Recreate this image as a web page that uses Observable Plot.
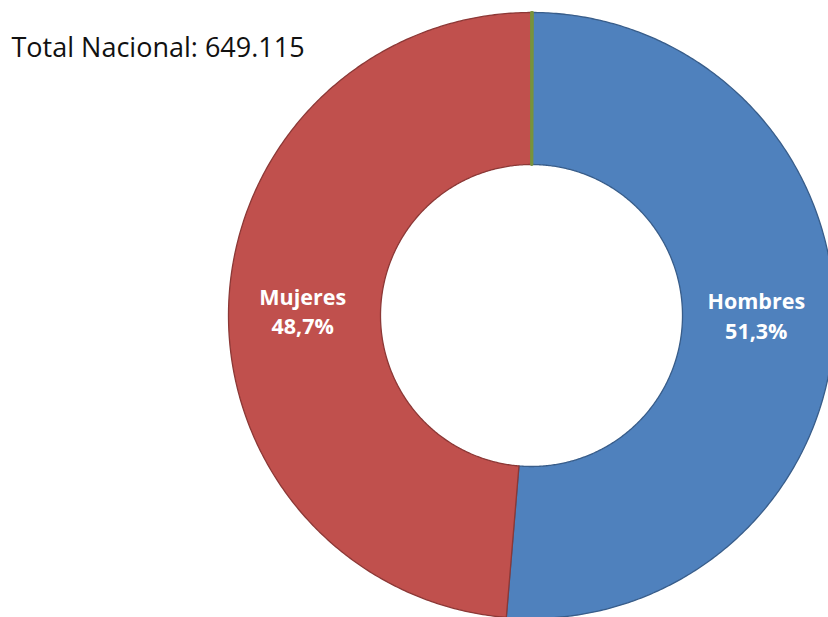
<!DOCTYPE html>
<html>
<head>
<meta charset="utf-8">
<script src="https://cdn.jsdelivr.net/npm/d3@7"></script>
<script src="https://cdn.jsdelivr.net/npm/@observablehq/plot@0.6"></script>
<style>
  html, body { margin: 0; padding: 0; background: #fff; }
  #chart svg { display: block; }
</style>
</head>
<body>
<div id="chart"></div>
<script>
// ---- data ----
const categories = ["Otro", "Hombres", "Mujeres"];
const values = [0.05, 51.3, 48.7];
const labels = ["", "Hombres\n51,3%", "Mujeres\n48,7%"];
const colors = ["#77933C", "#4F81BD", "#C0504D"];
const borders = ["#77933C", "#385D8A", "#8C3836"];
const title = "Total Nacional: 649.115";

// ---- layout ----
const W = 828, H = 617;
const cx = 531, cy = 315, R = 303, innerRatio = 151 / 303;
const labelDx = {Hombres: -2, Mujeres: -2};
const labelDy = {Hombres: -11, Mujeres: 4};

const data = categories.map((c, i) => ({cat: c, value: values[i], label: labels[i]}));
const arcs = d3.pie().sort(null).value(d => d.value)(data);

// polygon vertices for each ring segment (geometry derived from the pie angles)
const poly = [];
for (const a of arcs) {
  const n = Math.max(2, Math.ceil((a.endAngle - a.startAngle) / (Math.PI / 360)));
  for (let k = 0; k <= n; k++) {
    const t = a.startAngle + (a.endAngle - a.startAngle) * k / n;
    poly.push({cat: a.data.cat, x: Math.sin(t), y: Math.cos(t)});
  }
  for (let k = n; k >= 0; k--) {
    const t = a.startAngle + (a.endAngle - a.startAngle) * k / n;
    poly.push({cat: a.data.cat, x: innerRatio * Math.sin(t), y: innerRatio * Math.cos(t)});
  }
  poly.push({cat: a.data.cat, x: Math.sin(a.startAngle), y: Math.cos(a.startAngle)});
}
const mid = (1 + innerRatio) / 2;
const labelPts = arcs.filter(a => a.data.label).map(a => {
  const t = (a.startAngle + a.endAngle) / 2;
  return {cat: a.data.cat, label: a.data.label, x: mid * Math.sin(t), y: mid * Math.cos(t)};
});

// draw the big slices first, the thin slice on top so it stays visible
const drawOrder = [...arcs].sort((a, b) => b.value - a.value);

const plot = Plot.plot({
  width: W, height: H,
  margin: 0,
  x: {domain: [-cx / R, (W - cx) / R], axis: null},
  y: {domain: [-(H - cy) / R, cy / R], axis: null},
  color: {domain: categories, range: colors},
  style: {fontFamily: "'Open Sans', sans-serif", background: "#fff"},
  marks: [
    ...drawOrder.map(a => Plot.line(poly.filter(p => p.cat === a.data.cat), {
      x: "x", y: "y", fill: "cat", stroke: borders[categories.indexOf(a.data.cat)],
      strokeWidth: a.data.cat === "Otro" ? 2.8 : 1.3, strokeLinejoin: "round", curve: "linear"
    })),
    ...labelPts.map(p => Plot.text([p], {
      x: "x", y: "y", text: "label", fill: "white", fontWeight: "bold",
      fontSize: 21.5, lineHeight: 1.38, dx: labelDx[p.cat], dy: labelDy[p.cat]
    })),
    Plot.text([title], {
      frameAnchor: "top-left", dx: 11, dy: 56, lineAnchor: "bottom",
      fontSize: 27, fill: "#111", textAnchor: "start"
    })
  ]
});
document.getElementById("chart").appendChild(plot);
</script>
</body>
</html>
